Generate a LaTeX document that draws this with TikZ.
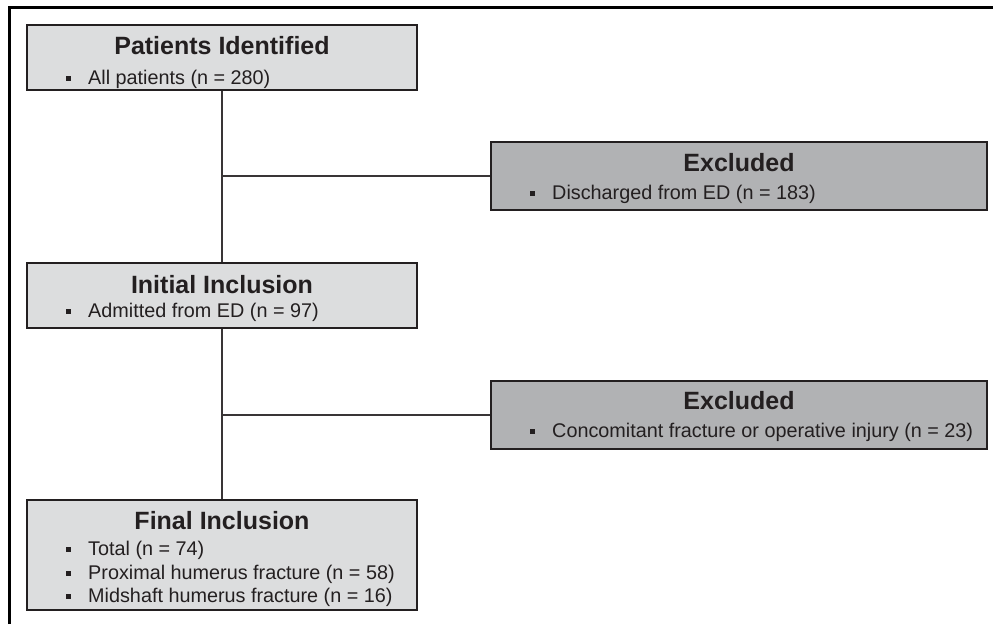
\documentclass[tikz,border=0pt]{standalone}
\usepackage{fontspec}
\setmainfont{Liberation Sans}
\usepackage{tikz}
\usetikzlibrary{arrows,shapes}
\usetikzlibrary{positioning,fit}
\definecolor{ink}{HTML}{231F20}
\definecolor{inclfill}{HTML}{DCDDDE}
\definecolor{exclfill}{HTML}{B1B2B4}
\tikzstyle{inclbox} = [draw=ink, rectangle, line width=2.6pt, fill=inclfill,
    minimum width=390pt, inner sep=0pt]
\tikzstyle{exclbox} = [inclbox, fill=exclfill, minimum width=496pt]
\tikzstyle{head} = [anchor=base, inner sep=0pt, text=ink,
    font=\fontsize{25}{30}\selectfont\bfseries]
\tikzstyle{item} = [anchor=base west, inner sep=0pt, text=ink,
    font=\fontsize{19.8}{24}\selectfont]
\tikzstyle{link} = [draw=ink!90, line width=2.4pt]
\newcommand{\sqbul}{\raisebox{3.2pt}{\rule{5.2pt}{5.2pt}}\hspace{17.3pt}}

\begin{document}
\begin{tikzpicture}[x=1pt, y=-1pt]
  \useasboundingbox (0,0) rectangle (993,624);
  \draw [line width=3pt, black] (9,624) -- (9,7) -- (993,7);
  % boxes
  \node [inclbox, minimum height=65pt] (c11) at (222,57.5) {};
  \node [exclbox, minimum height=68pt] (c12) at (739,176) {};
  \node [inclbox, minimum height=65pt] (c21) at (222,295.5) {};
  \node [exclbox, minimum height=68pt] (c22) at (739,415) {};
  \node [inclbox, minimum height=110pt] (c31) at (222,555) {};
  % texts
  \node [head] (c11t) at (222,54) {Patients Identified};
  \node [item] (c11a) at (65.5,84) {\sqbul All patients (n = 280)};
  \node [head] (c12t) at (739,171) {Excluded};
  \node [item] (c12a) at (529.5,199) {\sqbul Discharged from ED (n = 183)};
  \node [head] (c21t) at (222,293) {Initial Inclusion};
  \node [item] (c21a) at (65.5,317) {\sqbul Admitted from ED (n = 97)};
  \node [head] (c22t) at (739,409) {Excluded};
  \node [item] (c22a) at (529.5,437) {\sqbul Concomitant fracture or operative injury (n = 23)};
  \node [head] (c31t) at (222,529) {Final Inclusion};
  \node [item] (c31a) at (65.5,555) {\sqbul Total (n = 74)};
  \node [item] (c31b) at (65.5,579) {\sqbul Proximal humerus fracture (n = 58)};
  \node [item] (c31c) at (65.5,602) {\sqbul Midshaft humerus fracture (n = 16)};
  % connectors
  \coordinate (j1) at (c11.south |- c12.west);
  \coordinate (j2) at (c21.south |- c22.west);
  \draw [link] (c11) -- (c21);
  \draw [link] (c21) -- (c31);
  \draw [link] (j1) -- (c12.west);
  \draw [link] (j2) -- (c22.west);
\end{tikzpicture}
\end{document}
